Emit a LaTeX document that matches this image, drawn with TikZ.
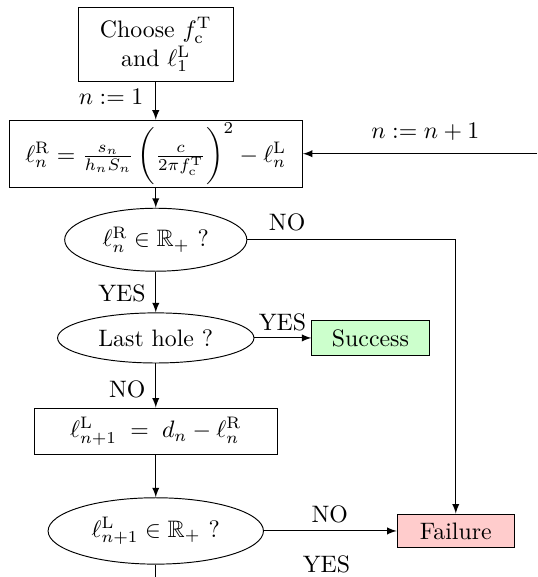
\documentclass[tikz,border=0pt]{standalone}
\usepackage{amsmath,amssymb}
\usepackage{tikz}
\usetikzlibrary{arrows,shapes,positioning}

\tikzset{
  stepbox/.style={draw,rectangle,align=center,inner sep=0pt},
  testell/.style={draw,ellipse,inner sep=0pt},
  flow/.style={-latex}
}

\begin{document}
\begin{tikzpicture}
      \useasboundingbox (0,0) rectangle (7.93,-8.52);
      \node[stepbox,minimum width=2.29cm,minimum height=1.09cm] (choose) at (2.30,-0.66) {Choose $f_{\mathrm{c}}^{\mathrm{T}}$\\ and $\ell_1^{\mathrm{L}}$};
      \node[stepbox,minimum width=4.33cm,minimum height=0.99cm] (right) at (2.30,-2.27) {$\ell_n^{\mathrm{R}} = \frac{s_n}{h_n S_n}\,\bigg(\frac{c}{2\pi f_{\mathrm{c}}^{\mathrm{T}}}\bigg)^2 - \ell_n^{\mathrm{L}}$};
      \node[testell,minimum width=2.69cm,minimum height=0.93cm] (testR) at (2.30,-3.54) {$\ell_n^{\mathrm{R}} \in \mathbb{R}_+$ ?};
      \node[testell,minimum width=2.90cm,minimum height=0.74cm] (last) at (2.30,-4.99) {Last hole ?};
      \node[stepbox,fill=green!20,minimum width=1.73cm,minimum height=0.52cm] (succ) at (5.47,-4.99) {Success};
      \node[stepbox,minimum width=3.59cm,minimum height=0.69cm] (left) at (2.30,-6.37) {$\ell_{n+1}^{\mathrm{L}} \;=\; d_n - \ell_n^{\mathrm{R}}$};
      \node[testell,minimum width=3.18cm,minimum height=0.98cm] (testL) at (2.30,-7.84) {$\ell_{n+1}^{\mathrm{L}} \in \mathbb{R}_+$ ?};
      \node[stepbox,fill=red!20,minimum width=1.73cm,minimum height=0.50cm] (fail) at (6.73,-7.84) {Failure};
      \coordinate (next) at (7.93,-2.27);
      \coordinate (corner) at (6.73,-3.54);
      \coordinate (down) at (2.30,-8.52);
      % labels
      \node (n1) at (1.64,-1.43) {$n := 1$};
      \node (nn) at (6.28,-1.95) {$n := n+1$};
      \node (noR) at (4.24,-3.28) {NO};
      \node (yesR) at (1.80,-4.33) {YES};
      \node (yesL) at (4.17,-4.76) {YES};
      \node (noL) at (1.88,-5.75) {NO};
      \node (noF) at (4.87,-7.59) {NO};
      \node[inner sep=1pt] (yesF) at (4.82,-8.33) {YES};
      \draw [flow] (choose) -- (right);
      \draw [flow] (next) -- (right);
      \draw [flow] (right) -- (testR);
      \draw [flow] (testR) -- (last);
      \draw [flow] (last) -- (succ);
      \draw [flow] (last) -- (left);
      \draw [flow] (left) -- (testL);
      \draw [flow] (testL) -- (fail);
      \draw [flow] (testR) -- (corner) -- (fail);
      \draw (testL) -- (down);
\end{tikzpicture}
\end{document}
